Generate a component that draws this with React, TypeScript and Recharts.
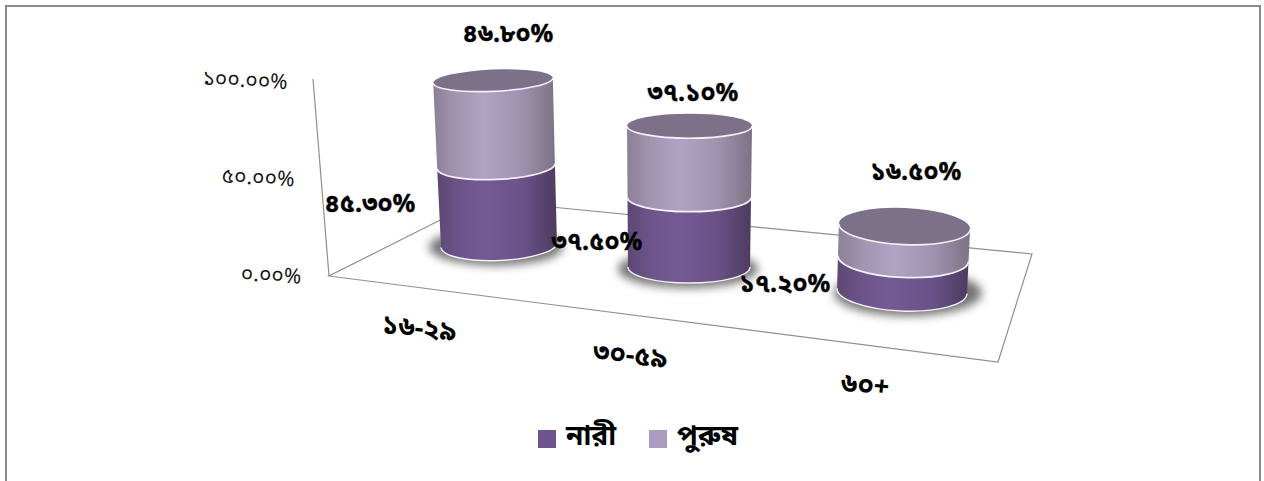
import React from "react";
import { BarChart, Bar, XAxis, YAxis, Legend, LabelList, Customized } from "recharts";

// Share of respondents by age group, split by gender.
const categories = ["১৬-২৯", "৩০-৫৯", "৬০+"];
const nariValues = [45.3, 37.5, 17.2];
const purushValues = [46.8, 37.1, 16.5];
const yTicks = [0, 50, 100];
const NARI = "নারী";
const PURUSH = "পুরুষ";

const rows = categories.map((category, i) => ({
  category,
  nari: nariValues[i],
  purush: purushValues[i],
}));

const WIDTH = 1264;
const HEIGHT = 481;
const PLOT_BOTTOM = 240;
const PX_PER_UNIT = 2;
const FONT = "'Noto Sans Bengali', 'Noto Sans', 'DejaVu Sans', sans-serif";

// Perspective placement of each cylinder on the slanted floor.
const stage = [
  { cx: 499, baseY: 245, k: 1.693, rx: 58, ry: 15.5, lean: -0.065, tilt: -2.5, shadowX: -3 },
  { cx: 689, baseY: 267, k: 1.81, rx: 61, ry: 16, lean: 0.007, tilt: 0, shadowX: -1 },
  { cx: 902, baseY: 291, k: 1.88, rx: 65, ry: 20, lean: 0.074, tilt: 2.5, shadowX: 6 },
];

const ring = (i: number, v: number) => {
  const s = stage[i];
  return {
    cx: s.cx + s.lean * v,
    cy: s.baseY - s.k * v * (1 + 0.0006 * v),
    rx: s.rx + 0.02 * v,
    ry: s.ry - 0.05 * v,
    tilt: s.tilt,
  };
};

const ends = (r: ReturnType<typeof ring>) => {
  const a = (r.tilt * Math.PI) / 180;
  const dx = r.rx * Math.cos(a);
  const dy = r.rx * Math.sin(a);
  return { lx: r.cx - dx, ly: r.cy - dy, rx: r.cx + dx, ry: r.cy + dy };
};

const lowerArc = (r: ReturnType<typeof ring>) => {
  const e = ends(r);
  return `A ${r.rx} ${r.ry} ${r.tilt} 0 0 ${e.rx} ${e.ry}`;
};

const Cylinder = (props: any) => {
  const { x, y, width, height, index, series } = props;
  if (x == null || width == null) return null;
  const hi = (PLOT_BOTTOM - y) / PX_PER_UNIT;
  const lo = (PLOT_BOTTOM - y - height) / PX_PER_UNIT;
  const top = ring(index, hi);
  const bottom = ring(index, lo);
  const et = ends(top);
  const eb = ends(bottom);
  const side = `M ${et.lx} ${et.ly} L ${eb.lx} ${eb.ly} ${lowerArc(bottom)} L ${et.rx} ${et.ry} Z`;
  return (
    <g>
      {series === "nari" && (
        <ellipse
          cx={bottom.cx + stage[index].shadowX}
          cy={bottom.cy + 2}
          rx={bottom.rx + 9}
          ry={bottom.ry + 3}
          fill="#5a5a5a"
          opacity={0.85}
          filter="url(#floorShadow)"
        />
      )}
      <path d={side} fill={`url(#${series}Side)`} />
      <path
        d={`M ${eb.lx} ${eb.ly} ${lowerArc(bottom)}`}
        fill="none"
        stroke="#f6eef8"
        strokeWidth={series === "nari" ? 1.4 : 1.8}
      />
      {series === "purush" && (
        <g>
          <ellipse
            cx={top.cx}
            cy={top.cy}
            rx={top.rx}
            ry={top.ry}
            transform={`rotate(${top.tilt} ${top.cx} ${top.cy})`}
            fill="#7c7189"
          />
          <path d={`M ${et.lx} ${et.ly} ${lowerArc(top)}`} fill="none" stroke="#f6eef8" strokeWidth={1.6} />
        </g>
      )}
    </g>
  );
};

// Value captions sit beside or above each cylinder rather than on it.
const nariCaptionSpots = [
  [370, 205],
  [597, 243],
  [785, 285],
];
const purushCaptionSpots = [
  [508, 35],
  [693, 94],
  [916, 173],
];

const toBengali = (s: string) => s.replace(/[0-9]/g, (d) => "০১২৩৪৫৬৭৮৯"[Number(d)]);

const captionFor = (spots: number[][]) => (props: any) => {
  const { index, value } = props;
  const [cx, cy] = spots[index];
  return (
    <text
      x={cx}
      y={cy}
      textAnchor="middle"
      dominantBaseline="central"
      fontFamily={FONT}
      fontSize={25}
      fontWeight={700}
      fill="#000"
      stroke="#000"
      strokeWidth={0.3}
    >
      {toBengali(`${Number(value).toFixed(2)}%`)}
    </text>
  );
};

const YTick = (props: any) => {
  const v = (PLOT_BOTTOM - props.y) / PX_PER_UNIT;
  const px = 271 - 0.26 * v;
  const py = 277 - 1.95 * v;
  return (
    <text x={px} y={py} textAnchor="middle" dominantBaseline="central" fontFamily={FONT} fontSize={21} fill="#111" transform={`rotate(3 ${px} ${py})`}>
      {toBengali(`${v.toFixed(2)}%`)}
    </text>
  );
};

const categorySpots = [
  [419, 330],
  [630, 357],
  [865, 387],
];

const XTick = (props: any) => {
  const [px, py] = categorySpots[props.index];
  return (
    <text
      x={px}
      y={py}
      textAnchor="middle"
      dominantBaseline="central"
      fontFamily={FONT}
      fontSize={27}
      fontWeight={700}
      fill="#000"
      transform={`rotate(6 ${px} ${py})`}
    >
      {props.payload.value}
    </text>
  );
};

// Floor outline and the slanted value axis of the 3D frame.
const Frame = () => (
  <g stroke="#8f8f8f" strokeWidth={1.2} fill="none">
    <path d="M 480 200 L 1032 254 L 998 362 L 329 276 Z" />
    <path d="M 329 276 L 313 79" />
  </g>
);

const legendItems = [
  { label: NARI, color: "#6f5590", left: 538, textLeft: 566 },
  { label: PURUSH, color: "#aa9bbf", left: 649, textLeft: 677 },
];

const LegendRow = () => (
  <div style={{ position: "relative", width: 0, height: 0 }}>
    {legendItems.map((item) => (
      <React.Fragment key={item.label}>
        <span style={{ position: "absolute", left: item.left, top: 430, width: 18, height: 18, background: item.color }} />
        <span
          style={{
            position: "absolute",
            left: item.textLeft,
            top: 416,
            lineHeight: "44px",
            whiteSpace: "nowrap",
            color: "#000",
            fontFamily: FONT,
            fontSize: 28,
            fontWeight: 700,
          }}
        >
          {item.label}
        </span>
      </React.Fragment>
    ))}
  </div>
);

export default function App() {
  return (
    <div style={{ position: "absolute", left: 0, top: 0, width: WIDTH, height: HEIGHT, overflow: "hidden", background: "#fff" }}>
      <div
        style={{
          position: "absolute",
          left: 5,
          top: 5,
          width: 1252,
          height: 500,
          borderTop: "2px solid #8a8a8a",
          borderLeft: "2px solid #8a8a8a",
          borderRight: "2px solid #8a8a8a",
        }}
      />
      <div style={{ position: "absolute", left: 0, top: 0 }}>
        <BarChart
          width={WIDTH}
          height={HEIGHT}
          data={rows}
          margin={{ top: 40, right: 264, bottom: 211, left: 240 }}
          barCategoryGap="30%"
        >
          <defs>
            <linearGradient id="nariSide" x1="0" y1="0" x2="1" y2="0">
              <stop offset="0" stopColor="#5c4873" />
              <stop offset="0.18" stopColor="#6c5489" />
              <stop offset="0.4" stopColor="#745a94" />
              <stop offset="0.72" stopColor="#6a5288" />
              <stop offset="1" stopColor="#4c3b60" />
            </linearGradient>
            <linearGradient id="purushSide" x1="0" y1="0" x2="1" y2="0">
              <stop offset="0" stopColor="#8b8096" />
              <stop offset="0.2" stopColor="#a296b2" />
              <stop offset="0.42" stopColor="#b0a2c4" />
              <stop offset="0.72" stopColor="#a093b0" />
              <stop offset="1" stopColor="#7b7386" />
            </linearGradient>
            <filter id="floorShadow" x="-30%" y="-80%" width="160%" height="260%">
              <feGaussianBlur stdDeviation="5" />
            </filter>
          </defs>
          <Customized component={Frame} />
          <XAxis dataKey="category" axisLine={false} tickLine={false} height={30} interval={0} tick={<XTick />} />
          <YAxis
            type="number"
            domain={[0, 100]}
            ticks={yTicks}
            width={80}
            axisLine={false}
            tickLine={false}
            tick={<YTick />}
          />
          <Legend
            verticalAlign="top"
            align="left"
            content={<LegendRow />}
            wrapperStyle={{ position: "absolute", left: 0, top: 0, width: 0, height: 0, margin: 0 }}
          />
          <Bar
            dataKey="nari"
            name={NARI}
            stackId="gender"
            fill="#6f5590"
            isAnimationActive={false}
            shape={(p: any) => <Cylinder {...p} series="nari" />}
          >
            <LabelList dataKey="nari" content={captionFor(nariCaptionSpots)} />
          </Bar>
          <Bar
            dataKey="purush"
            name={PURUSH}
            stackId="gender"
            fill="#aa9bbf"
            isAnimationActive={false}
            shape={(p: any) => <Cylinder {...p} series="purush" />}
          >
            <LabelList dataKey="purush" content={captionFor(purushCaptionSpots)} />
          </Bar>
        </BarChart>
      </div>
    </div>
  );
}
